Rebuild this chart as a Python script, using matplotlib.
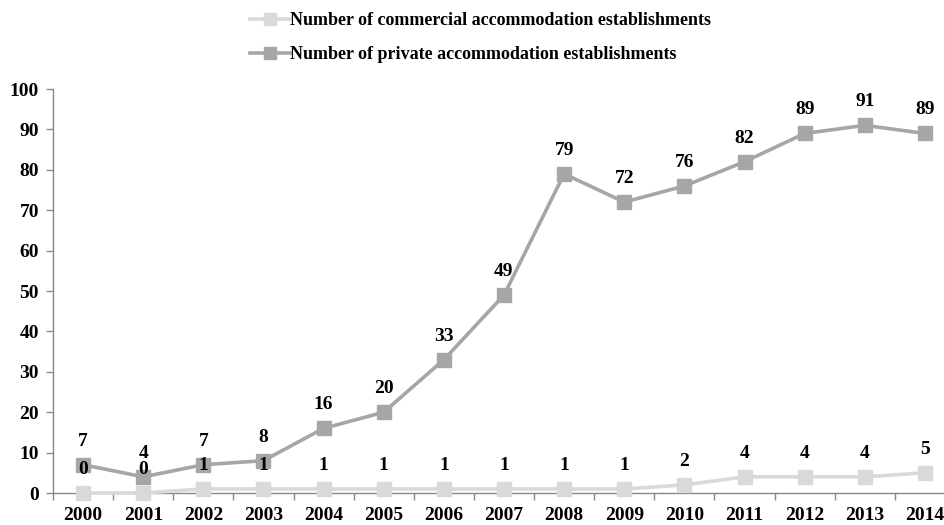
import matplotlib
matplotlib.use("Agg")
import matplotlib.pyplot as plt
import numpy as np

years = ["2000", "2001", "2002", "2003", "2004", "2005", "2006", "2007",
         "2008", "2009", "2010", "2011", "2012", "2013", "2014"]
commercial = [0, 0, 1, 1, 1, 1, 1, 1, 1, 1, 2, 4, 4, 4, 5]
private = [7, 4, 7, 8, 16, 20, 33, 49, 79, 72, 76, 82, 89, 91, 89]
yticks = [0, 10, 20, 30, 40, 50, 60, 70, 80, 90, 100]

plt.rcParams['font.family'] = ['Liberation Serif', 'DejaVu Serif']
plt.rcParams['font.weight'] = 'bold'

c_light = '#D9D9D9'
c_dark = '#A6A6A6'
axis_col = '#888888'
fs = 14

fig = plt.figure(figsize=(9.45, 5.25), dpi=100)
# plot area extends slightly past the right edge, as in the reference
ax = fig.add_axes([53 / 945, 1 - 493 / 525, 902 / 945, 404 / 525])

x = np.arange(len(years))
ax.plot(x, commercial, color=c_light, lw=2.6, marker='s', ms=10, clip_on=False,
        label='Number of commercial accommodation establishments', zorder=3)
ax.plot(x, private, color=c_dark, lw=2.6, marker='s', ms=10, clip_on=False,
        label='Number of private accommodation establishments', zorder=3)

for xi, v in zip(x, private):
    ax.annotate(str(v), (xi, v), xytext=(0, 17), textcoords='offset points',
                ha='center', va='center', fontsize=fs, fontweight='bold', zorder=5)
for xi, v in zip(x, commercial):
    ax.annotate(str(v), (xi, v), xytext=(0, 17), textcoords='offset points',
                ha='center', va='center', fontsize=fs, fontweight='bold', zorder=5)

ax.set_xlim(-0.5, len(years) - 0.5)
ax.set_ylim(0, 100)
ax.set_yticks(yticks)
ax.set_yticklabels([str(t) for t in yticks], fontsize=fs, fontweight='bold')
ax.set_xticks(x)
ax.set_xticklabels(years, fontsize=fs, fontweight='bold')
ax.tick_params(axis='x', length=0, pad=10)
ax.set_xticks(np.arange(len(years) + 1) - 0.5, minor=True)
ax.tick_params(axis='x', which='minor', length=5, color=axis_col, width=1)
ax.tick_params(axis='y', length=5, color=axis_col, width=1, pad=5)

for s in ['top', 'right']:
    ax.spines[s].set_visible(False)
for s in ['left', 'bottom']:
    ax.spines[s].set_color(axis_col)
    ax.spines[s].set_linewidth(1)

fig.legend(loc='upper center', bbox_to_anchor=(0.5085, 1.008), ncol=1, frameon=False,
           prop={'family': 'Liberation Serif', 'weight': 'bold', 'size': 13},
           handlelength=2.2, handletextpad=0.0, labelspacing=0.95, markerscale=0.8)

fig.savefig('out.png', dpi=100)
